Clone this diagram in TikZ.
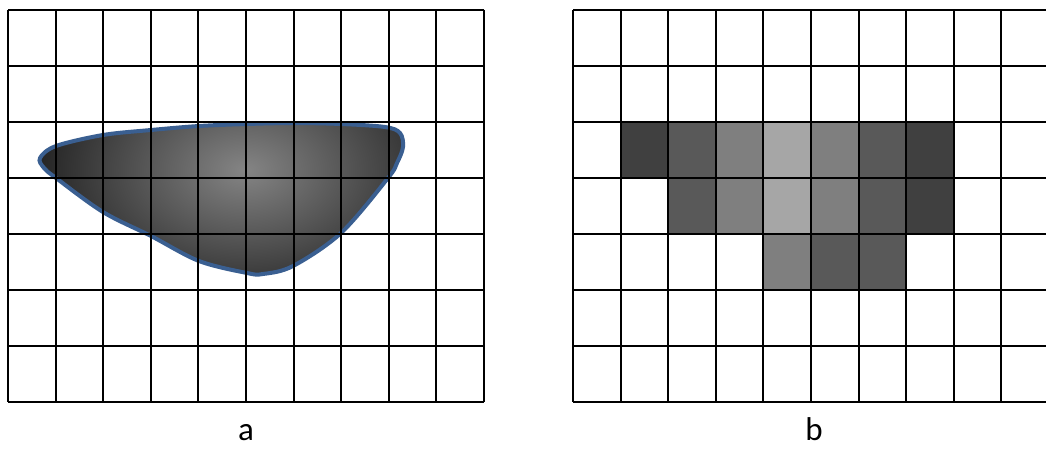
\documentclass[tikz,border=0pt]{standalone}
\usepackage{fontspec}
\setmainfont{Carlito}
\begin{document}
\begin{tikzpicture}[x=1pt,y=-1pt,
  gridline/.style={line width=2pt,black},
  blobline/.style={line width=4pt,draw={rgb,255:red,58;green,95;blue,145}},
  lbl/.style={font=\fontsize{33}{36}\selectfont,anchor=base,inner sep=0pt},
  c1/.style={fill={rgb,255:red,64;green,64;blue,64}},
  c2/.style={fill={rgb,255:red,89;green,89;blue,89}},
  c3/.style={fill={rgb,255:red,127;green,127;blue,127}},
  c4/.style={fill={rgb,255:red,166;green,166;blue,166}}]
\useasboundingbox (0,0) rectangle (1046,448);
\fill[white] (0,0) rectangle (1046,448);
% blob
\def\blob{plot[smooth cycle,tension=0.55] coordinates {(40,158) (56,146) (103,135) (151,130) (199,126) (247,124) (293,123) (341,124) (385,127) (400,133) (403,147) (397,163) (388,178) (341,233) (293,266) (263,274) (247,273) (199,261) (151,236) (103,212) (56,178) (44,168)}}
\begin{scope}
\clip \blob;
\shade[inner color=black!48,outer color=black!100] (245,170) ellipse [x radius=285,y radius=190];
\end{scope}
\draw[blobline] \blob;
% grid a
\foreach \i in {0,...,10} \draw[gridline] (8+\i*47.6,9.5) -- (8+\i*47.6,402);
\foreach \j in {0,...,7} \draw[gridline] (8,9.5+\j*56.07) -- (484,9.5+\j*56.07);
% grid b cells
\def\bx{573}
\foreach \c/\s in {1/c1,2/c2,3/c3,4/c4,5/c3,6/c2,7/c1}
  \path[\s] (\bx+\c*47.6,9.5+2*56.07) rectangle (\bx+\c*47.6+47.6,9.5+3*56.07);
\foreach \c/\s in {2/c2,3/c3,4/c4,5/c3,6/c2,7/c1}
  \path[\s] (\bx+\c*47.6,9.5+3*56.07) rectangle (\bx+\c*47.6+47.6,9.5+4*56.07);
\foreach \c/\s in {4/c3,5/c2,6/c2}
  \path[\s] (\bx+\c*47.6,9.5+4*56.07) rectangle (\bx+\c*47.6+47.6,9.5+5*56.07);
\foreach \i in {0,...,10} \draw[gridline] (\bx+\i*47.6,9.5) -- (\bx+\i*47.6,402);
\foreach \j in {0,...,7} \draw[gridline] (\bx,9.5+\j*56.07) -- (\bx+476,9.5+\j*56.07);
\node[lbl] (la) at (246,440) {a};
\node[lbl] (lb) at (814,440) {b};
\end{tikzpicture}
\end{document}
